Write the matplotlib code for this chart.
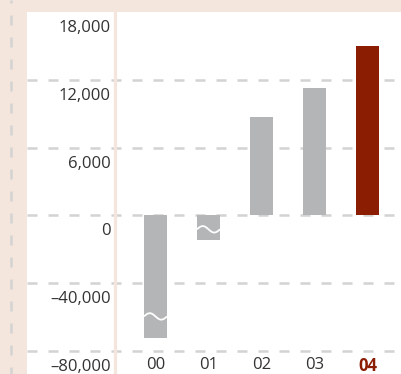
import numpy as np
import matplotlib
matplotlib.use("Agg")
import matplotlib.pyplot as plt
from matplotlib.lines import Line2D
from matplotlib.patches import Rectangle
from matplotlib.transforms import ScaledTranslation, blended_transform_factory

# --- data -------------------------------------------------------------
years = ["00", "01", "02", "03", "04"]
values = [-72500, -14300, 8700, 11300, 15000]
# truncated bars get a wavy break drawn at these values
break_values = [-59600, -8200]
ytick_values = [-80000, -40000, 0, 6000, 12000, 18000]
ytick_labels = ["\u201380,000", "\u201340,000", "0", "6,000", "12,000", "18,000"]

# --- style ------------------------------------------------------------
BEIGE = "#f4e6dd"
GREY_BAR = "#b4b5b6"
RED = "#8b1d03"
GRID = "#d3d3d3"
TEXT = "#333333"
FONT = ["Open Sans", "DejaVu Sans"]

plt.rcParams["font.family"] = FONT

W, H = 402, 374


# split scale: 6,000 per step above zero, 40,000 per step below
def fwd(v):
    v = np.asarray(v, dtype=float)
    return np.where(v >= 0, v / 6000.0, v / 40000.0)


def inv(u):
    u = np.asarray(u, dtype=float)
    return np.where(u >= 0, u * 6000.0, u * 40000.0)


fig = plt.figure(figsize=(W / 100, H / 100), dpi=100, facecolor=BEIGE)

# white panel
fig.add_artist(Rectangle((27 / W, 0), 1 - 27 / W, 1 - 12 / H,
                         transform=fig.transFigure, facecolor="white",
                         edgecolor="none", zorder=0))
# dashed rule in the left margin
fig.add_artist(Line2D([11 / W, 11 / W], [1, 0], transform=fig.transFigure,
                      color=GRID, lw=1.8, linestyle=(2.8, (4, 4.8)), zorder=1))

ax_left, ax_top, ax_bottom = 115, 12, 351
ax = fig.add_axes([ax_left / W, 1 - ax_bottom / H, 1 - ax_left / W,
                   (ax_bottom - ax_top) / H])
ax.set_facecolor("none")
ax.set_yscale("function", functions=(fwd, inv))
ax.set_ylim(-80000, 18000)
x = np.arange(len(years))
ax.set_xlim(-0.764, 4.651)

for s in ax.spines.values():
    s.set_visible(False)

# gridlines spanning the whole white panel
trans = blended_transform_factory(ax.transAxes, ax.transData)
x0 = (27 - ax_left) / (W - ax_left)
for v in ytick_values:
    if v == ytick_values[-1]:
        continue
    ax.add_line(Line2D([x0, 1], [v, v], transform=trans, color=GRID,
                       lw=1.8, linestyle=(0, (4, 4.4)), clip_on=False,
                       zorder=1))

colors = [GREY_BAR] * (len(years) - 1) + [RED]
bar_w = 0.434
ax.bar(x, values, width=bar_w, color=colors, zorder=2)

# wavy breaks on the truncated bars
t = np.linspace(0, 1, 60)
for i, bv in enumerate(break_values):
    xs = x[i] - bar_w / 2 + t * bar_w
    amp = 1900
    ys = bv + amp * np.sin(2 * np.pi * t)
    ax.plot(xs, ys, color="white", lw=1.3, zorder=3, solid_capstyle="butt")

# y-axis rule
fig.add_artist(Line2D([ax_left / W, ax_left / W], [0, 1 - ax_top / H],
                      transform=fig.transFigure, color=BEIGE, lw=2.3, zorder=4))

ax.set_yticks(ytick_values)
ax.set_yticklabels(ytick_labels)
ax.tick_params(axis="y", length=0, pad=3, labelsize=12, labelcolor=TEXT)
for lab in ax.get_yticklabels():
    lab.set_transform(lab.get_transform() +
                      ScaledTranslation(0, -0.14, fig.dpi_scale_trans))

ax.set_xticks(x)
ax.set_xticklabels(years)
ax.tick_params(axis="x", length=0, pad=4.5, labelsize=12, labelcolor=TEXT)
xl = ax.get_xticklabels()
xl[-1].set_color(RED)
xl[-1].set_fontweight("bold")

fig.savefig("out.png", dpi=100, facecolor=BEIGE)
